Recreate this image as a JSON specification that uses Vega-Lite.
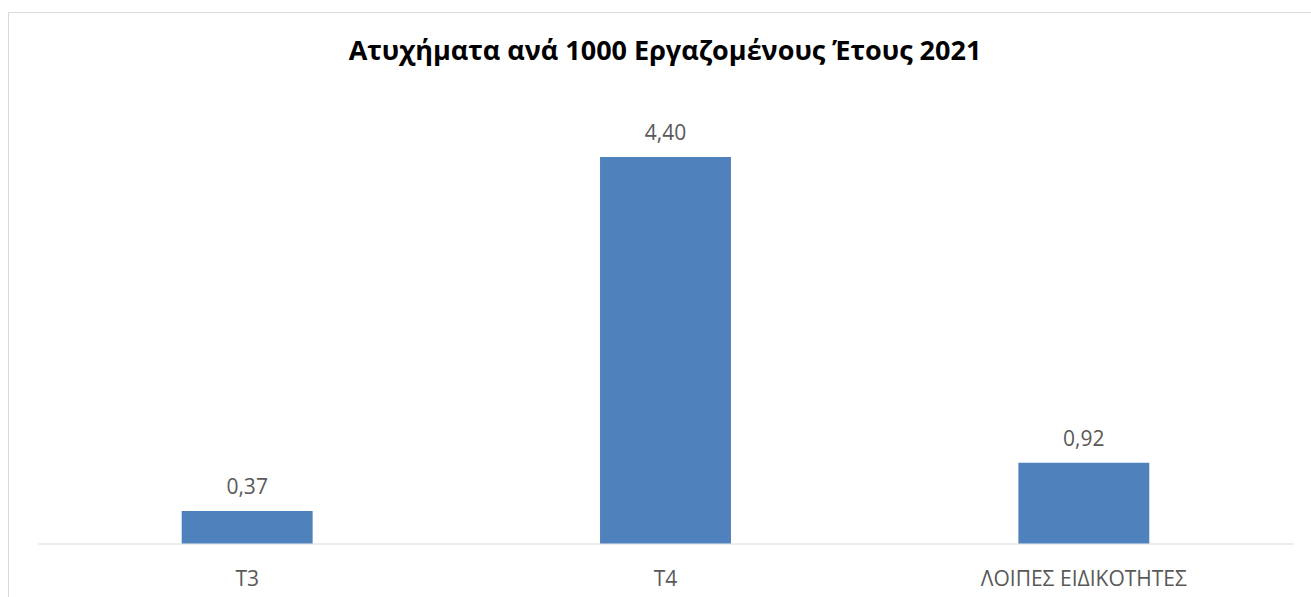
{
  "$schema": "https://vega.github.io/schema/vega-lite/v6.json",
  "width": 1303,
  "height": 585,
  "autosize": {"type": "none"},
  "padding": {"left": 8, "top": 12, "right": 0, "bottom": 0},
  "background": "white",
  "config": {
    "locale": {
      "number": {"decimal": ",", "thousands": ".", "grouping": [3], "currency": ["", " €"]},
      "time": {
        "dateTime": "%a, %e %b %Y %X",
        "date": "%d/%m/%Y",
        "time": "%H:%M:%S",
        "periods": ["AM", "PM"],
        "days": ["Sunday", "Monday", "Tuesday", "Wednesday", "Thursday", "Friday", "Saturday"],
        "shortDays": ["Sun", "Mon", "Tue", "Wed", "Thu", "Fri", "Sat"],
        "months": ["January", "February", "March", "April", "May", "June", "July", "August", "September", "October", "November", "December"],
        "shortMonths": ["Jan", "Feb", "Mar", "Apr", "May", "Jun", "Jul", "Aug", "Sep", "Oct", "Nov", "Dec"]
      }
    },
    "view": {"stroke": "#d9d9d9", "strokeWidth": 1, "strokeDash": [1303, 1888, 585]},
    "font": "Open Sans"
  },
  "title": {
    "text": "Ατυχήματα ανά 1000 Εργαζομένους Έτους 2021",
    "fontSize": 27,
    "fontWeight": "bold",
    "color": "#000000",
    "font": "Open Sans",
    "anchor": "middle",
    "frame": "group",
    "baseline": "alphabetic",
    "offset": 0,
    "dx": 5.5,
    "dy": 75
  },
  "data": {
    "values": [
      {"cat": "Τ3", "value": 0.37},
      {"cat": "Τ4", "value": 4.40},
      {"cat": "ΛΟΙΠΕΣ ΕΙΔΙΚΟΤΗΤΕΣ", "value": 0.92}
    ]
  },
  "encoding": {
    "x": {
      "field": "cat",
      "type": "nominal",
      "sort": null,
      "scale": {"range": [30, 1285], "paddingInner": 0, "paddingOuter": 0},
      "axis": {
        "orient": "bottom",
        "offset": -53.5,
        "domain": true,
        "domainColor": "#d9d9d9",
        "domainWidth": 1,
        "ticks": false,
        "grid": false,
        "title": null,
        "labelAngle": 0,
        "labelFontSize": 21,
        "labelFont": "Open Sans",
        "labelColor": "#595959",
        "labelBaseline": "middle",
        "labelPadding": 35.5,
        "labelLimit": 0
      }
    },
    "y": {"field": "value", "type": "quantitative", "scale": {"domain": [-0.609, 6.051], "nice": false, "zero": false}, "axis": null}
  },
  "layer": [
    {
      "mark": {"type": "bar", "width": {"band": 0.313}, "color": "#4f81bd"}
    },
    {
      "mark": {"type": "text", "dy": -17, "baseline": "alphabetic", "fontSize": 21, "color": "#595959", "font": "Open Sans"},
      "encoding": {
        "text": {"field": "value", "type": "quantitative", "format": ".2f"}
      }
    }
  ]
}
